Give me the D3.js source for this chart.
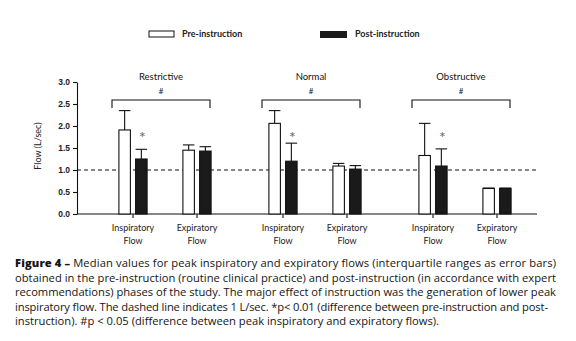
<!DOCTYPE html>
<html lang="en">
<head>
    <meta charset="UTF-8">
    <title>Peak inspiratory and expiratory flows</title>
    <script src="https://d3js.org/d3.v7.min.js"></script>
    <style>
        body { margin: 0; background: white; }
        svg { display: block; font-family: Lato, "Open Sans", sans-serif; }
        .axis text { font-size: 8.5px; font-weight: bold; fill: #222; }
        .axis line, .axis path { stroke: #111; stroke-width: 1.1; }
        .caption { font-family: "Open Sans", sans-serif; font-size: 11.2px; fill: #151515; }
    </style>
</head>
<body>
<script>
    // groups, flow types and medians with upper quartiles (L/sec)
    var groups = ["Restrictive", "Normal", "Obstructive"];
    var flows = ["Inspiratory", "Expiratory"];
    var preMedian  = [1.91, 1.45, 2.06, 1.09, 1.33, 0.58];
    var preUpper   = [2.35, 1.57, 2.35, 1.15, 2.06, 0.59];
    var postMedian = [1.25, 1.43, 1.20, 1.02, 1.09, 0.58];
    var postUpper  = [1.47, 1.53, 1.61, 1.10, 1.48, 0.59];
    var yTicks = [0, 0.5, 1, 1.5, 2, 2.5, 3];
    var refLine = 1;

    var captionLines = [
        "Median values for peak inspiratory and expiratory flows (interquartile ranges as error bars)",
        "obtained in the pre-instruction (routine clinical practice) and post-instruction (in accordance with expert",
        "recommendations) phases of the study. The major effect of instruction was the generation of lower peak",
        "inspiratory flow. The dashed line indicates 1 L/sec. *p< 0.01 (difference between pre-instruction and post-",
        "instruction). #p < 0.05 (difference between peak inspiratory and expiratory flows)."
    ];
    var captionWidths = [541, 541, 541, 533];

    var width = 576, height = 341;
    var svg = d3.select("body").append("svg")
        .attr("width", width)
        .attr("height", height);

    var y = d3.scaleLinear().domain([0, 3]).range([214, 82]);
    var xGroup = d3.scaleBand().domain(groups).range([90, 540]);
    var xFlow = d3.scalePoint().domain(flows).range([-32, 32]);
    var barW = 11.5, gap = 2.6;

    var rows = [];
    groups.forEach(function(g, gi) {
        flows.forEach(function(f, fi) {
            var i = gi * 2 + fi;
            rows.push({
                group: g, flow: f,
                cx: xGroup(g) + xGroup.bandwidth() / 2 + xFlow(f),
                pre: preMedian[i], preHi: preUpper[i],
                post: postMedian[i], postHi: postUpper[i]
            });
        });
    });

    // y axis
    svg.append("g")
        .attr("class", "axis")
        .attr("transform", "translate(77,0)")
        .call(d3.axisLeft(y).tickValues(yTicks).tickFormat(d3.format(".1f"))
            .tickSize(4).tickSizeOuter(0).tickPadding(3));

    svg.append("text")
        .attr("transform", "translate(41,146) rotate(-90)")
        .attr("text-anchor", "middle")
        .style("font-size", "9px")
        .attr("fill", "#222")
        .text("Flow (L/sec)");

    // x axis line and ticks
    svg.append("line")
        .attr("x1", 77).attr("x2", 537)
        .attr("y1", y(0)).attr("y2", y(0))
        .attr("stroke", "#111").attr("stroke-width", 1.1);

    var ticks = svg.append("g").selectAll("g")
        .data(rows).enter().append("g")
        .attr("transform", function(d) { return "translate(" + d.cx + "," + y(0) + ")"; });
    ticks.append("line").attr("y2", 4).attr("stroke", "#111").attr("stroke-width", 1.1);
    ticks.append("text").attr("y", 17).attr("text-anchor", "middle")
        .style("font-size", "9px").attr("fill", "#222").text(function(d) { return d.flow; });
    ticks.append("text").attr("y", 30).attr("text-anchor", "middle")
        .style("font-size", "9px").attr("fill", "#222").text("Flow");

    // dashed reference line at 1 L/sec
    svg.append("line")
        .attr("x1", 77).attr("x2", 537)
        .attr("y1", y(refLine)).attr("y2", y(refLine))
        .attr("stroke", "#111").attr("stroke-width", 1.1)
        .attr("stroke-dasharray", "4,3");

    // error bars (upper quartile only)
    function errorBar(sel, xOff, lo, hi) {
        sel.append("line")
            .attr("x1", function(d) { return d.cx + xOff; })
            .attr("x2", function(d) { return d.cx + xOff; })
            .attr("y1", function(d) { return y(d[lo]); })
            .attr("y2", function(d) { return y(d[hi]); })
            .attr("stroke", "#111").attr("stroke-width", 1.1);
        sel.append("line")
            .attr("x1", function(d) { return d.cx + xOff - barW / 2; })
            .attr("x2", function(d) { return d.cx + xOff + barW / 2; })
            .attr("y1", function(d) { return y(d[hi]); })
            .attr("y2", function(d) { return y(d[hi]); })
            .attr("stroke", "#111").attr("stroke-width", 1.1);
    }

    var marks = svg.append("g").selectAll("g").data(rows).enter().append("g");
    errorBar(marks, -gap - barW / 2, "pre", "preHi");
    errorBar(marks, gap + barW / 2, "post", "postHi");

    marks.append("rect")
        .attr("x", function(d) { return d.cx - gap - barW; })
        .attr("y", function(d) { return y(d.pre); })
        .attr("width", barW)
        .attr("height", function(d) { return y(0) - y(d.pre); })
        .attr("fill", "white").attr("stroke", "#111").attr("stroke-width", 1.1);

    marks.append("rect")
        .attr("x", function(d) { return d.cx + gap; })
        .attr("y", function(d) { return y(d.post); })
        .attr("width", barW)
        .attr("height", function(d) { return y(0) - y(d.post); })
        .attr("fill", "#1a1a1a").attr("stroke", "#111").attr("stroke-width", 1.1);

    // asterisks over post-instruction inspiratory bars
    marks.filter(function(d) { return d.flow === "Inspiratory"; })
        .append("text")
        .attr("x", function(d) { return d.cx + gap + barW / 2 + 1; })
        .attr("y", 143)
        .attr("text-anchor", "middle")
        .style("font-size", "16px")
        .attr("fill", "#666")
        .text("*");

    // group brackets, titles and #
    var brackets = svg.append("g").selectAll("g").data(groups).enter().append("g");
    brackets.append("path")
        .attr("d", function(g) {
            var x0 = xGroup(g) + xGroup.bandwidth() / 2 + xFlow("Inspiratory") - 21;
            var x1 = xGroup(g) + xGroup.bandwidth() / 2 + xFlow("Expiratory") + 13;
            return "M" + x0 + ",108V100H" + x1 + "V108";
        })
        .attr("fill", "none").attr("stroke", "#111").attr("stroke-width", 1.1);
    brackets.append("text")
        .attr("x", function(g) { return xGroup(g) + xGroup.bandwidth() / 2 - 4; })
        .attr("y", 80)
        .attr("text-anchor", "middle")
        .style("font-size", "9.5px").attr("fill", "#111")
        .text(function(g) { return g; });
    brackets.append("text")
        .attr("x", function(g) { return xGroup(g) + xGroup.bandwidth() / 2 - 4; })
        .attr("y", 94)
        .attr("text-anchor", "middle")
        .style("font-size", "8px").attr("fill", "#222")
        .text("#");

    // legend
    var legend = svg.append("g");
    legend.append("rect").attr("x", 149).attr("y", 31).attr("width", 25).attr("height", 6)
        .attr("fill", "white").attr("stroke", "#111").attr("stroke-width", 1);
    legend.append("text").attr("x", 182).attr("y", 37)
        .style("font-size", "9px").style("font-weight", "bold").attr("fill", "#222")
        .text("Pre-instruction");
    legend.append("rect").attr("x", 320).attr("y", 31).attr("width", 27).attr("height", 7)
        .attr("fill", "#1a1a1a");
    legend.append("text").attr("x", 355).attr("y", 37)
        .style("font-size", "9px").style("font-weight", "bold").attr("fill", "#222")
        .text("Post-instruction");

    // caption, justified except the last line
    var caption = svg.append("g").attr("class", "caption");
    captionLines.forEach(function(line, i) {
        var t = caption.append("text")
            .attr("x", 15)
            .attr("y", 267 + i * 14.6);
        if (i === 0) {
            t.append("tspan").style("font-weight", "800").text("Figure 4 \u2013 ");
        }
        t.append("tspan").text(line);
        if (i < captionWidths.length) {
            t.attr("textLength", captionWidths[i]).attr("lengthAdjust", "spacing");
        }
    });
</script>
</body>
</html>
